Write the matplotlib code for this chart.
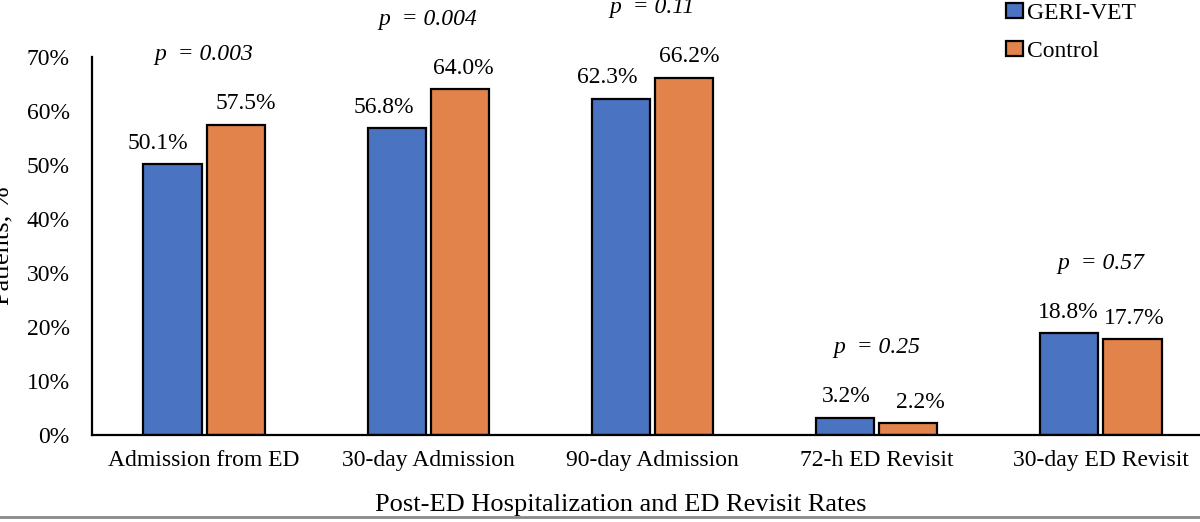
import numpy as np
import matplotlib.pyplot as plt
from matplotlib.lines import Line2D

categories = ['Admission from ED', '30-day Admission', '90-day Admission',
              '72-h ED Revisit', '30-day ED Revisit']
geri_vet = [50.1, 56.8, 62.3, 3.2, 18.8]
control = [57.5, 64.0, 66.2, 2.2, 17.7]
p_values = ['0.003', '0.004', '0.11', '0.25', '0.57']

plt.rcParams['font.family'] = ['Liberation Serif', 'DejaVu Serif']

blue = '#4A73C1'
orange = '#E1834A'
fs = 17

fig = plt.figure(figsize=(12, 5.22), dpi=100)
# axes run past the right edge, the reference picture is cropped there
ax = fig.add_axes([92 / 1200, 87 / 522, 1121 / 1200, 378 / 522])

x = np.arange(len(categories))
w = 0.26
gap = 0.022
b1 = ax.bar(x - (w + gap) / 2, geri_vet, w, color=blue, edgecolor='black',
            linewidth=1.6, label='GERI-VET')
b2 = ax.bar(x + (w + gap) / 2, control, w, color=orange, edgecolor='black',
            linewidth=1.6, label='Control')

# value labels (small manual nudges like the original)
nudge1 = [-15, -13, -14, 1, -1]
nudge2 = [10, 3, 5, 12, 2]
for bars, vals, nudge in [(b1, geri_vet, nudge1), (b2, control, nudge2)]:
    for rect, v, dx in zip(bars, vals, nudge):
        ax.annotate('%.1f%%' % v,
                    (rect.get_x() + rect.get_width() / 2, v),
                    xytext=(dx * 0.72, 15), textcoords='offset points',
                    ha='center', va='center', fontsize=fs)

for i, p in enumerate(p_values):
    top = max(geri_vet[i], control[i])
    ax.text(i, top + 13.0, 'p  = ' + p, ha='center', va='center',
            fontsize=fs, fontstyle='italic')

ax.set_xlim(-0.5, 4.5)
ax.set_ylim(0, 70)
ax.set_yticks(np.arange(0, 71, 10))
ax.set_yticklabels(['%d%%' % t for t in range(0, 71, 10)])
ax.set_xticks(x)
ax.set_xticklabels(categories)
ax.tick_params(axis='both', length=0, labelsize=fs)
ax.tick_params(axis='y', pad=16)
ax.tick_params(axis='x', pad=11)
for s in ['top', 'right']:
    ax.spines[s].set_visible(False)
ax.spines['left'].set_linewidth(1.6)
ax.spines['bottom'].set_linewidth(1.6)

fig.text(621 / 1200, 1 - 505 / 522, 'Post-ED Hospitalization and ED Revisit Rates',
         ha='center', va='center', fontsize=19)
fig.text(2 / 1200, 1 - 246 / 522, 'Patients, %', rotation=90,
         ha='center', va='center', fontsize=19)

fig.legend(handles=[b1, b2], loc='upper left',
           bbox_to_anchor=(985 / 1200, 1 + 18 / 522), frameon=False,
           fontsize=fs, handlelength=0.7, handleheight=0.6,
           handletextpad=0.2, labelspacing=0.7)

fig.add_artist(Line2D([0, 1], [1 - 517 / 522] * 2, color='#8a8a8a',
                      linewidth=2, transform=fig.transFigure))

fig.savefig('out.png', dpi=100)
